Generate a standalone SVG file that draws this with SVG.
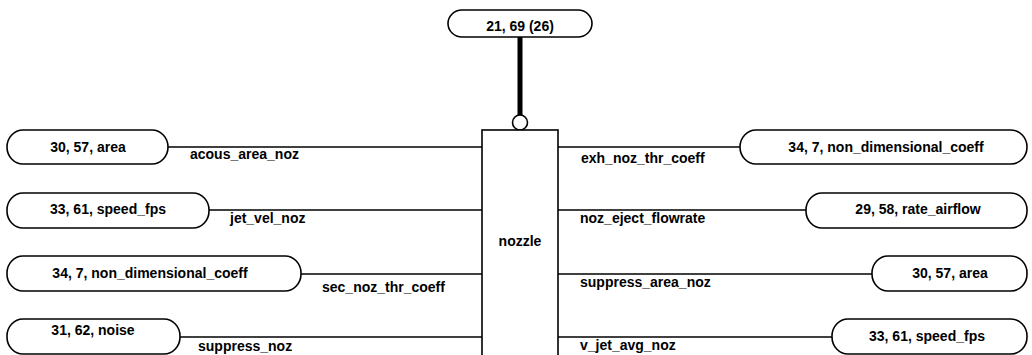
<svg xmlns="http://www.w3.org/2000/svg" width="1032" height="355" viewBox="0 0 1032 355">
<style>
.n{fill:#fff;stroke:#000;stroke-width:1.6}
.t{font-family:"Liberation Sans",Arial,sans-serif;font-size:14px;font-weight:bold;fill:#000}
.c{text-anchor:middle}
.l{stroke:#000;stroke-width:1.6;fill:none}
</style>
<rect width="1032" height="355" fill="#fff"/>
<g id="connectors">
<line class="l" x1="520" y1="37" x2="520" y2="115" stroke-width="5" style="stroke-width:5"/>
<circle class="n" cx="520" cy="122.5" r="7.5"/>
<line class="l" x1="168" y1="147" x2="482" y2="147"/>
<line class="l" x1="209" y1="210" x2="482" y2="210"/>
<line class="l" x1="301" y1="274" x2="482" y2="274"/>
<line class="l" x1="180" y1="337" x2="482" y2="337"/>
<line class="l" x1="558" y1="147" x2="740" y2="147"/>
<line class="l" x1="558" y1="210" x2="806" y2="210"/>
<line class="l" x1="558" y1="274" x2="872" y2="274"/>
<line class="l" x1="558" y1="337" x2="832" y2="337"/>
<text class="t" x="190" y="159">acous_area_noz</text>
<text class="t" x="230" y="223">jet_vel_noz</text>
<text class="t" x="322" y="292">sec_noz_thr_coeff</text>
<text class="t" x="198" y="351">suppress_noz</text>
<text class="t" x="581" y="163">exh_noz_thr_coeff</text>
<text class="t" x="580" y="223">noz_eject_flowrate</text>
<text class="t" x="580" y="287">suppress_area_noz</text>
<text class="t" x="580" y="350">v_jet_avg_noz</text>
</g>
<g id="top">
<rect class="n" x="448" y="10" width="144" height="27" rx="14" ry="13.5"/>
<text class="t c" x="520" y="31">21, 69 (26)</text>
</g>
<g id="nozzle">
<rect class="n" x="482" y="130" width="76" height="240"/>
<text class="t c" x="520" y="246">nozzle</text>
</g>
<g id="l1">
<rect class="n" x="7" y="130" width="161" height="34" rx="16" ry="17"/>
<text class="t c" x="88" y="152">30, 57, area</text>
</g>
<g id="l2">
<rect class="n" x="7" y="193" width="202" height="35" rx="16" ry="17"/>
<text class="t c" x="108" y="214">33, 61, speed_fps</text>
</g>
<g id="l3">
<rect class="n" x="7" y="256" width="294" height="35" rx="16" ry="17"/>
<text class="t c" x="150" y="278">34, 7, non_dimensional_coeff</text>
</g>
<g id="l4">
<rect class="n" x="7" y="319" width="173" height="35" rx="16" ry="17"/>
<text class="t c" x="93" y="335">31, 62, noise</text>
</g>
<g id="r1">
<rect class="n" x="740" y="130" width="287" height="34" rx="16" ry="17"/>
<text class="t c" x="886" y="152">34, 7, non_dimensional_coeff</text>
</g>
<g id="r2">
<rect class="n" x="806" y="193" width="221" height="35" rx="16" ry="17"/>
<text class="t c" x="918" y="214">29, 58, rate_airflow</text>
</g>
<g id="r3">
<rect class="n" x="872" y="256" width="155" height="35" rx="16" ry="17"/>
<text class="t c" x="950" y="278">30, 57, area</text>
</g>
<g id="r4">
<rect class="n" x="832" y="319" width="195" height="35" rx="16" ry="17"/>
<text class="t c" x="927" y="341">33, 61, speed_fps</text>
</g>
</svg>
